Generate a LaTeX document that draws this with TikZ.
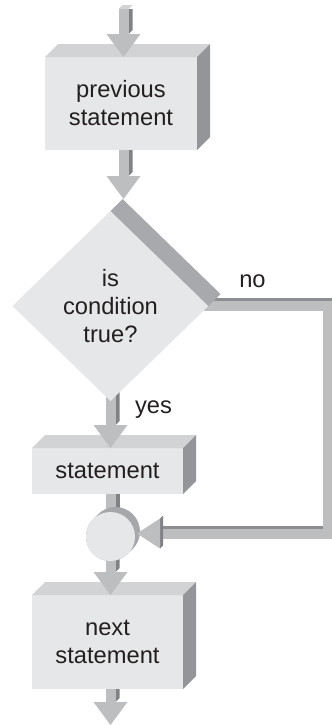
\documentclass[tikz,border=0pt]{standalone}
\usepackage{fontspec}
\setmainfont{Liberation Sans}
\usetikzlibrary{calc,shapes.geometric}
\pgfdeclarelayer{under}
\pgfdeclarelayer{over}
\pgfsetlayers{under,main,over}
\definecolor{cfront}{RGB}{230,231,232}
\definecolor{ctop}{RGB}{210,211,213}
\definecolor{cside}{RGB}{147,149,152}
\definecolor{cdext}{RGB}{167,169,172}
\definecolor{clight}{RGB}{188,190,192}
\definecolor{carside}{RGB}{128,130,133}
\definecolor{cbardark}{RGB}{140,142,145}
\definecolor{ccircside}{RGB}{165,167,170}
\definecolor{ctext}{RGB}{35,31,32}
% vertical 3D arrow: shaft from #1 down to the head base, head tip at y of #2
\newcommand\cvshaft[2]{%
  \fill[carside] let \p1=(#1),\p2=(#2) in (\x1+2.5pt,\y1) -- (\x1+4.5pt,\y1) -- (\x1+4.5pt,\y2+13.5pt) -- (\x1+2.5pt,\y2+11.5pt) -- cycle;
  \fill[clight] let \p1=(#1),\p2=(#2) in (\x1-2.5pt,\y1) rectangle (\x1+2.5pt,\y2+11.5pt);}
\newcommand\cvhead[2]{%
  \fill[clight] let \p1=(#1),\p2=(#2) in (\x1-8.5pt,\y2+11.5pt) -- (\x1+8.5pt,\y2+11.5pt) -- (\x1,\y2) -- cycle;}
\newcommand\cvbar[2]{%
  \fill[carside] let \p1=(#1),\p2=(#2) in (\x1+2.5pt,\y1) rectangle (\x1+4.5pt,\y2);
  \fill[clight] let \p1=(#1),\p2=(#2) in (\x1-2.5pt,\y1) rectangle (\x1+2.5pt,\y2);}
\newcommand\cboxfaces[1]{%
  \fill[ctop] (#1.north west) -- ++(13,-13) -- ($(#1.north east)+(13,-13)$) -- (#1.north east) -- cycle;
  \fill[cside] (#1.north east) -- ++(13,-13) -- ($(#1.south east)+(13,-13)$) -- (#1.south east) -- cycle;}
\tikzset{
  boxfront/.style={rectangle, fill=cfront, inner sep=0pt, outer sep=0pt, align=center, text=ctext,
    font=\fontsize{11.85pt}{14pt}\selectfont},
  lbl/.style={text=ctext, inner sep=0pt, font=\fontsize{11.85pt}{14pt}\selectfont}
}
\begin{document}
\begin{tikzpicture}[x=0.5pt,y=-0.5pt]
\useasboundingbox (0,0) rectangle (332,725);
% boxes
\node[boxfront, minimum width=76pt, minimum height=46.5pt] (prev) at (121,103.5) {previous\\statement};
\cboxfaces{prev}
\node[boxfront, minimum width=75.5pt, minimum height=23pt] (stmt) at (107.5,471) {statement};
\cboxfaces{stmt}
\node[boxfront, minimum width=75.5pt, minimum height=47pt] (next) at (107.5,642) {next\\statement};
\cboxfaces{next}
% decision
\node[boxfront, diamond, minimum width=98pt, minimum height=95pt] (cond) at (110.5,306) {is\\condition\\true?};
\fill[cdext] (cond.north) -- ++(12,-12) -- ($(cond.east)+(12,-12)$) -- (cond.east) -- cycle;
\coordinate (condtop) at ($(cond.north)+(12,-12)$);
% merge circle
\node[circle, fill=cfront, minimum size=24.5pt, inner sep=0pt, outer sep=0pt] (merge) at (110.5,536.5) {};
% coordinates
\coordinate (in) at (123.5,9);
\coordinate (pc) at ($(prev.south)+(2.5,0)$);
\coordinate (rc) at (328,0);
\coordinate (mh) at ($(merge.center -| 160,0)+(0,-3)$);
\coordinate (out) at (110.5,725);
% labels
\node[lbl, anchor=base] (nolbl) at (252.5,287) {no};
\node[lbl, anchor=base] (yeslbl) at (153.5,413) {yes};
\begin{pgfonlayer}{under}
  \cvshaft{cond.center}{stmt.north}
  \cvbar{stmt.south -| merge.center}{merge.center}
  \cvshaft{merge.center}{next.north}
  \draw[ccircside, line width=24.5pt, line cap=round] (merge.center) -- ++(5,-5);
  \draw[cbardark, line width=5pt, transform canvas={xshift=1.5pt,yshift=1.5pt}]
    (cond.center) -- (cond.center -| rc) -- (mh -| rc) -- (mh);
  \draw[clight, line width=5pt]
    (cond.center) -- (cond.center -| rc) -- (mh -| rc) -- (mh);
\end{pgfonlayer}
\begin{pgfonlayer}{over}
  % top incoming arrow
  \fill[ctop] ($(in)+(-5,0)$) -- ++(4,-4) -- ++(10,0) -- ++(-4,4) -- cycle;
  \cvshaft{in}{prev.north}
  \cvhead{in}{prev.north}
  \cvshaft{pc}{condtop}
  \cvhead{pc}{condtop}
  \cvhead{cond.center}{stmt.north}
  \cvhead{merge.center}{next.north}
  \cvshaft{next.south -| merge.center}{out}
  \cvhead{next.south -| merge.center}{out}
  % head of the "no" branch into the merge circle
  \fill[carside] ($(mh)+(0,-15)$) -- ++(3,-3) -- ++(0,30) -- ++(-3,3) -- cycle;
  \fill[clight] ($(mh)+(0,-15)$) -- ($(mh)+(0,15)$) -- ($(mh)+(-23,0)$) -- cycle;
\end{pgfonlayer}
\end{tikzpicture}
\end{document}
